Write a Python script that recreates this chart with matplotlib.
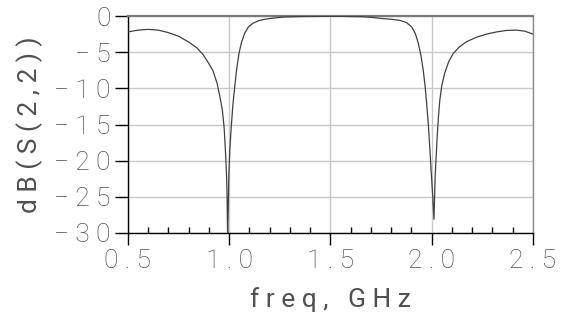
import matplotlib
matplotlib.use("Agg")
import matplotlib.pyplot as plt
from matplotlib.ticker import MultipleLocator

# values
freq = [0.50, 0.55, 0.60, 0.65, 0.70, 0.75, 0.80, 0.84, 0.87, 0.90, 0.92, 0.94,
        0.955, 0.966, 0.975, 0.981, 0.986, 0.989, 0.992, 0.995, 0.998, 1.003,
        1.010, 1.018, 1.027, 1.037, 1.048, 1.060, 1.076, 1.095, 1.117, 1.145,
        1.175, 1.22, 1.27, 1.35, 1.45, 1.55, 1.65, 1.70, 1.744, 1.80, 1.843,
        1.875, 1.901, 1.92, 1.934, 1.947, 1.958, 1.967, 1.975, 1.984, 1.991,
        1.998, 2.005, 2.011, 2.017, 2.022, 2.027, 2.033, 2.040, 2.050, 2.064,
        2.084, 2.106, 2.135, 2.172, 2.22, 2.27, 2.32, 2.368, 2.42, 2.46, 2.50]
s22_db = [-2.2, -1.95, -1.85, -1.95, -2.3, -2.8, -3.6, -4.4, -5.3, -6.6, -7.6, -9.3,
          -11.3, -13.0, -15.5, -18.5, -21.5, -24.5, -30.5, -27.0, -22.0, -18.5,
          -15.3, -12.3, -9.8, -7.3, -5.2, -3.7, -2.4, -1.5, -1.0, -0.65,
          -0.45, -0.28, -0.15, -0.08, -0.05, -0.05, -0.1, -0.18, -0.32, -0.45, -0.6,
          -0.9, -1.5, -2.5, -3.8, -5.5, -7.5, -9.6, -12.1, -15.3, -18.5,
          -21.8, -25.0, -28.1, -22.2, -19.3, -16.7, -14.0, -11.6, -9.6, -7.9,
          -6.3, -5.2, -4.3, -3.55, -2.95, -2.5, -2.2, -2.0, -1.95, -2.1, -2.5]

xticks = [0.5, 1.0, 1.5, 2.0, 2.5]
xlabels = ["0 . 5", "1 . 0", "1 . 5", "2 . 0", "2 . 5"]
yticks = [0, -5, -10, -15, -20, -25, -30]
ylabels = ["0", "− 5", "− 1 0", "− 1 5", "− 2 0", "− 2 5", "− 3 0"]

plt.rcParams['font.family'] = ['Roboto', 'DejaVu Sans']
plt.rcParams['font.weight'] = 'light'

fig, ax = plt.subplots(figsize=(5.76, 3.22), dpi=100)
fig.subplots_adjust(left=0.2222, right=0.9253, top=0.9503, bottom=0.2764)

ax.plot(freq, s22_db, color='#404040', lw=0.9, zorder=3)

ax.set_xlim(0.5, 2.5)
ax.set_ylim(-30, 0)
ax.set_xticks(xticks)
ax.set_xticklabels(xlabels)
ax.set_yticks(yticks)
ax.set_yticklabels(ylabels)
ax.xaxis.set_minor_locator(MultipleLocator(0.1))

ax.grid(True, which='major', color='#c8c8c8', lw=1.0, zorder=0)
ax.tick_params(axis='x', which='major', direction='out', length=8.5, width=1,
               color='black', labelsize=19, labelcolor='#505050', pad=3)
ax.tick_params(axis='x', which='minor', direction='in', length=4, width=1, color='black')
ax.tick_params(axis='y', which='major', direction='out', length=9.5, width=1,
               color='black', labelsize=19, labelcolor='#505050', pad=3)

for side in ['left', 'bottom']:
    ax.spines[side].set_color('black')
    ax.spines[side].set_linewidth(1.0)
ax.spines['top'].set_color('#7a7a7a')
ax.spines['top'].set_linewidth(1.6)
ax.spines['right'].set_color('#8a8a8a')
ax.spines['right'].set_linewidth(1.0)

ax.set_xlabel("f r e q ,   G H z", fontsize=19, color='#505050', labelpad=10)
ax.set_ylabel("d B ( S ( 2 , 2 ) )", fontsize=19, color='#505050', labelpad=8)

fig.savefig("out.png", dpi=100)
